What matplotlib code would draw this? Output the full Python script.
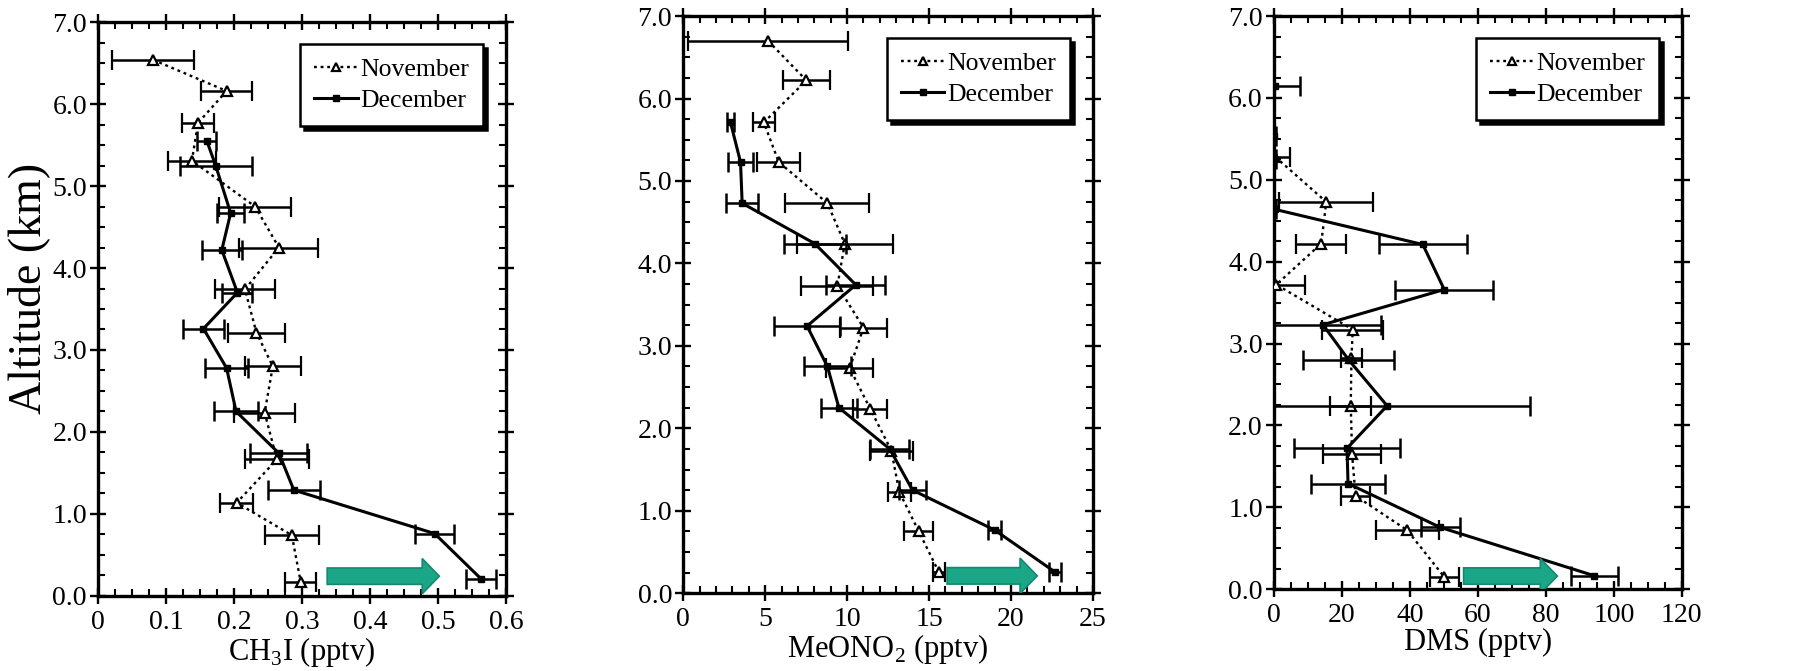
import matplotlib
matplotlib.use("Agg")
import matplotlib.pyplot as plt
from matplotlib.patches import FancyArrow
from matplotlib.lines import Line2D
from matplotlib.ticker import MultipleLocator, FormatStrFormatter

plt.rcParams['font.family'] = ['Liberation Serif', 'DejaVu Serif']
plt.rcParams['mathtext.fontset'] = 'custom'
plt.rcParams['mathtext.rm'] = 'Liberation Serif'

# CH3I (pptv)
ch3i_nov_x = [0.081, 0.189, 0.147, 0.138, 0.231, 0.266, 0.216, 0.233, 0.257, 0.245, 0.263, 0.204, 0.285, 0.298]
ch3i_nov_y = [6.54, 6.16, 5.77, 5.31, 4.75, 4.25, 3.74, 3.21, 2.80, 2.235, 1.665, 1.136, 0.74, 0.17]
ch3i_nov_err = [0.06, 0.038, 0.023, 0.035, 0.053, 0.058, 0.044, 0.042, 0.041, 0.045, 0.047, 0.024, 0.04, 0.023]
ch3i_dec_x = [0.160, 0.173, 0.195, 0.182, 0.205, 0.155, 0.189, 0.203, 0.266, 0.288, 0.495, 0.563]
ch3i_dec_y = [5.55, 5.25, 4.67, 4.22, 3.70, 3.26, 2.78, 2.25, 1.74, 1.29, 0.76, 0.21]
ch3i_dec_err = [0.014, 0.053, 0.02, 0.029, 0.022, 0.03, 0.032, 0.032, 0.042, 0.038, 0.029, 0.022]

# MeONO2 (pptv)
meono2_nov_x = [5.18, 7.52, 4.92, 5.83, 8.80, 9.86, 9.41, 11.0, 10.16, 11.4, 12.7, 13.18, 14.36, 15.6]
meono2_nov_y = [6.70, 6.22, 5.71, 5.23, 4.73, 4.24, 3.73, 3.22, 2.73, 2.24, 1.73, 1.23, 0.754, 0.254]
meono2_nov_err = [4.9, 1.42, 0.66, 1.3, 2.56, 2.93, 2.2, 1.45, 1.45, 1.05, 1.3, 0.7, 0.89, 0.38]
meono2_dec_x = [2.89, 3.5, 3.6, 8.03, 10.53, 7.56, 8.8, 9.5, 12.6, 13.99, 19.0, 22.7]
meono2_dec_y = [5.71, 5.23, 4.73, 4.24, 3.74, 3.24, 2.75, 2.25, 1.75, 1.25, 0.766, 0.254]
meono2_dec_err = [0.2, 0.78, 0.97, 1.9, 1.8, 2.0, 1.45, 1.1, 1.2, 0.8, 0.4, 0.37]

# DMS (pptv)
dms_nov_x = [0.4, 15.4, 13.9, 0.7, 23.2, 22.8, 22.6, 23.0, 24.0, 39.2, 50.1]
dms_nov_y = [5.28, 4.73, 4.22, 3.72, 3.17, 2.82, 2.24, 1.65, 1.14, 0.72, 0.15]
dms_nov_err = [4.2, 13.8, 7.4, 8.5, 9.0, 3.0, 6.0, 8.5, 4.4, 9.3, 4.2]
dms_dec_x = [0.2, 0.0, 0.0, 0.2, 43.8, 50.1, 14.4, 22.0, 33.3, 21.5, 21.8, 48.9, 94.3]
dms_dec_y = [6.15, 5.54, 5.26, 4.64, 4.21, 3.66, 3.23, 2.80, 2.24, 1.72, 1.29, 0.755, 0.163]
dms_dec_err = [7.5, 0.5, 0.5, 0.5, 13.0, 14.4, 17.0, 13.4, 42.0, 15.6, 11.0, 5.7, 6.8]

xlabels = [r'CH$_\mathrm{3}$I (pptv)', r'MeONO$_\mathrm{2}$ (pptv)', 'DMS (pptv)']
xmax = [0.6, 25, 120]
xmajor = [0.1, 5, 20]
xminor = [0.025, 1, 5]
arrow_x0 = [0.337, 16.1, 55.8]
arrow_x1 = [0.502, 21.6, 83.4]
arrow_y = [0.24, 0.21, 0.16]

fig = plt.figure(figsize=(17.93, 6.71), dpi=100)
boxes = [[0.0547, 0.112, 0.2275, 0.855],
         [0.381, 0.116, 0.2286, 0.860],
         [0.7105, 0.122, 0.2275, 0.854]]

panels = [
    (ch3i_nov_x, ch3i_nov_y, ch3i_nov_err, ch3i_dec_x, ch3i_dec_y, ch3i_dec_err),
    (meono2_nov_x, meono2_nov_y, meono2_nov_err, meono2_dec_x, meono2_dec_y, meono2_dec_err),
    (dms_nov_x, dms_nov_y, dms_nov_err, dms_dec_x, dms_dec_y, dms_dec_err),
]

nov_style = dict(color='black', ls=(0, (1.2, 1.6)), lw=1.7, marker='^',
                 mfc='white', mec='black', mew=1.6)
dec_style = dict(color='black', ls='-', lw=2.2, marker='s',
                 mfc='black', mec='black')

for i, (nx, ny, ne, dx, dy, de) in enumerate(panels):
    ax = fig.add_axes(boxes[i])
    ax.errorbar(nx, ny, xerr=ne, ecolor='black', elinewidth=1.8, capsize=7,
                capthick=1.8, zorder=3, ms=7, **nov_style)
    ax.errorbar(dx, dy, xerr=de, ecolor='black', elinewidth=1.8, capsize=7,
                capthick=1.8, zorder=4, ms=4.5, **dec_style)

    w = xmax[i]
    ax.add_patch(FancyArrow(arrow_x0[i], arrow_y[i], arrow_x1[i] - arrow_x0[i], 0,
                            width=0.2, head_width=0.43, head_length=w * 0.042,
                            length_includes_head=True, fc='#1ba688', ec='#138a6f',
                            lw=1.2, zorder=5))

    ax.set_xlim(0, xmax[i])
    ax.set_ylim(0, 7)
    ax.xaxis.set_major_locator(MultipleLocator(xmajor[i]))
    ax.xaxis.set_minor_locator(MultipleLocator(xminor[i]))
    ax.xaxis.set_major_formatter(FormatStrFormatter('%g'))
    ax.yaxis.set_major_locator(MultipleLocator(1))
    ax.yaxis.set_minor_locator(MultipleLocator(0.25))
    ax.yaxis.set_major_formatter(FormatStrFormatter('%.1f'))
    ax.tick_params(which='major', direction='inout', length=12, width=1.7,
                   labelsize=20, top=True, right=True, pad=2)
    ax.tick_params(which='minor', direction='in', length=5, width=1.5,
                   top=True, right=True)
    ax.tick_params(axis='x', which='major', pad=4)
    for s in ax.spines.values():
        s.set_linewidth(2.4)
    ax.set_xlabel(xlabels[i], fontsize=22, labelpad=0)

    handles = [Line2D([], [], ms=6, **nov_style), Line2D([], [], ms=4, **dec_style)]
    leg = ax.legend(handles, ['November', 'December'], loc='upper right',
                    bbox_to_anchor=(0.944, 0.962), borderaxespad=0, fontsize=18.5,
                    frameon=True, fancybox=False, handlelength=1.7,
                    handletextpad=0.1, borderpad=0.55, labelspacing=0.3,
                    shadow={'color': 'black', 'alpha': 1, 'ox': 3, 'oy': -3})
    leg.get_frame().set_edgecolor('black')
    leg.get_frame().set_linewidth(1.8)

fig.text(0.016, 0.57, 'Altitude (km)', rotation=90, fontsize=33,
         ha='center', va='center')

fig.savefig('out.png', dpi=100)
